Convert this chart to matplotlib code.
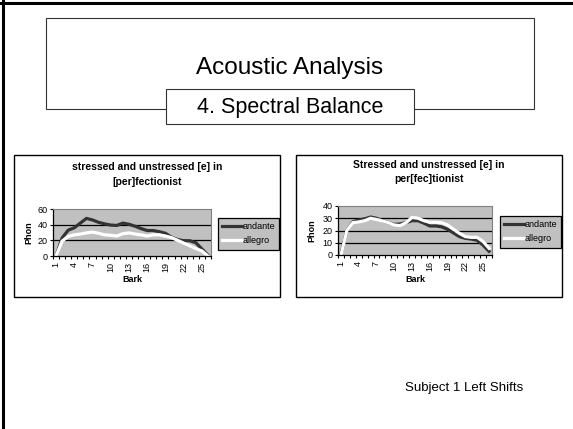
import matplotlib
matplotlib.use("Agg")
import matplotlib.pyplot as plt
from matplotlib.patches import Rectangle

plt.rcParams['font.family'] = ['Liberation Sans', 'DejaVu Sans']

# data (Bark bands 1..26, loudness in phon)
bark = list(range(1, 27))
bark_labels = ["1", "4", "7", "10", "13", "16", "19", "22", "25"]
per_andante = [0, 23, 33, 36, 42, 48, 46, 43, 41, 39.5, 39, 42, 40.5, 38, 35,
               32.5, 32.5, 31, 29, 24, 21, 19.5, 19.5, 17, 9, 1]
per_allegro = [0, 19, 25, 27, 28, 29.5, 30.5, 29, 27, 26.5, 25.5, 28.5, 29.5, 28,
               27, 25.5, 27, 27, 25.5, 23.5, 20, 16.5, 13, 9.5, 6.5, 0]
fec_andante = [1, 20, 27, 28.5, 29.5, 31, 30, 28, 26.4, 25, 25.3, 26.4, 28, 28, 26,
               23.7, 23.7, 23, 21, 18, 15, 13.6, 13, 12, 8, 3]
fec_allegro = [0, 20, 26.4, 27, 28, 30, 29, 27.8, 26.4, 24.5, 24, 26.4, 30.7, 30,
               28, 26.7, 26.7, 26.4, 24.5, 21, 17.7, 15, 14.4, 14.4, 11, 5.5]

W, H = 573, 429
fig = plt.figure(figsize=(W / 100, H / 100), dpi=100)

# background layer in pixel coords for the slide decoration
bg = fig.add_axes([0, 0, 1, 1])
bg.set_xlim(0, W)
bg.set_ylim(H, 0)
bg.axis("off")

bg.plot([2.5, 2.5], [0, H], color="black", lw=2.2)
bg.plot([0, W], [3.3, 3.3], color="black", lw=2.2)
bg.add_patch(Rectangle((46, 18), 488, 91, fill=False, ec="#333333", lw=0.8))
bg.add_patch(Rectangle((166, 89), 248, 35, fc="white", ec="#333333", lw=0.8))
bg.text(290, 74, "Acoustic Analysis", fontsize=17.5, ha="center", va="baseline")
bg.text(290, 113.5, "4. Spectral Balance", fontsize=15.5, ha="center", va="baseline")
bg.text(405, 391, "Subject 1 Left Shifts", fontsize=9.5, ha="left", va="baseline")


def chart(frame, plot, title, andante, allegro, ymax, ystep, leg, title_y):
    fx0, fx1, fy0, fy1 = frame
    bg.add_patch(Rectangle((fx0, fy0), fx1 - fx0, fy1 - fy0, fc="white", ec="black", lw=1.0))
    cx = (fx0 + fx1) / 2
    bg.text(cx, title_y[0], title[0], fontsize=7.5, fontweight="bold", ha="center", va="center")
    bg.text(cx, title_y[1], title[1], fontsize=7.5, fontweight="bold", ha="center", va="center")

    x0, x1, y0, y1 = plot
    ax = fig.add_axes([x0 / W, 1 - y1 / H, (x1 - x0) / W, (y1 - y0) / H])
    ax.set_facecolor("#C0C0C0")
    ax.plot(bark, andante, color="#333333", lw=2.3, label="andante", solid_joinstyle="round")
    ax.plot(bark, allegro, color="white", lw=2.3, label="allegro", solid_joinstyle="round")
    ax.set_xlim(0.5, 26.5)
    ax.set_ylim(0, ymax)
    yt = list(range(0, ymax + 1, ystep))
    ax.set_yticks(yt)
    ax.set_yticklabels([str(v) for v in yt])
    for v in yt[1:-1]:
        ax.axhline(v, color="black", lw=0.9, zorder=1)
    ax.set_xticks([int(s) for s in bark_labels])
    ax.set_xticklabels(bark_labels, rotation=90)
    ax.set_xticks([b + 0.5 for b in range(0, 27)], minor=True)
    ax.tick_params(axis="x", which="major", length=0, pad=4.5, labelsize=6.5)
    ax.tick_params(axis="x", which="minor", length=2.5, width=0.8, direction="out")
    ax.tick_params(axis="y", length=2.5, width=0.8, pad=1.5, labelsize=6.5)
    for s in ["top", "right"]:
        ax.spines[s].set_color("#808080")
        ax.spines[s].set_linewidth(0.8)
    for s in ["left", "bottom"]:
        ax.spines[s].set_linewidth(0.9)

    bg.text(fx0 + (x0 - fx0) * 0.38, (y0 + y1) / 2, "Phon", rotation=90, fontsize=6.5,
            fontweight="bold", ha="center", va="center")
    bg.text((x0 + x1) / 2, 280, "Bark", fontsize=6.5, fontweight="bold", ha="center", va="center")

    lx0, ly0 = leg
    lg = ax.legend(loc="upper left", bbox_to_anchor=(lx0 / W, 1 - ly0 / H),
                   bbox_transform=fig.transFigure, fontsize=6.5, facecolor="#C0C0C0",
                   edgecolor="black", framealpha=1, fancybox=False, borderpad=0.45,
                   borderaxespad=0, handlelength=2.2, handletextpad=0.05, labelspacing=0.6)
    lg.get_frame().set_linewidth(0.9)
    return ax


chart((14, 280, 155, 297), (53, 211, 209, 256),
      ("stressed and unstressed [e] in", "[per]fectionist"),
      per_andante, per_allegro, 60, 20, (218, 218), (167, 182))
chart((296, 562, 155, 297), (338, 492, 206, 255),
      ("Stressed and unstressed [e] in", "per[fec]tionist"),
      fec_andante, fec_allegro, 40, 10, (500, 216), (165, 178.5))

fig.savefig("out.png", dpi=100)
plt.close(fig)
